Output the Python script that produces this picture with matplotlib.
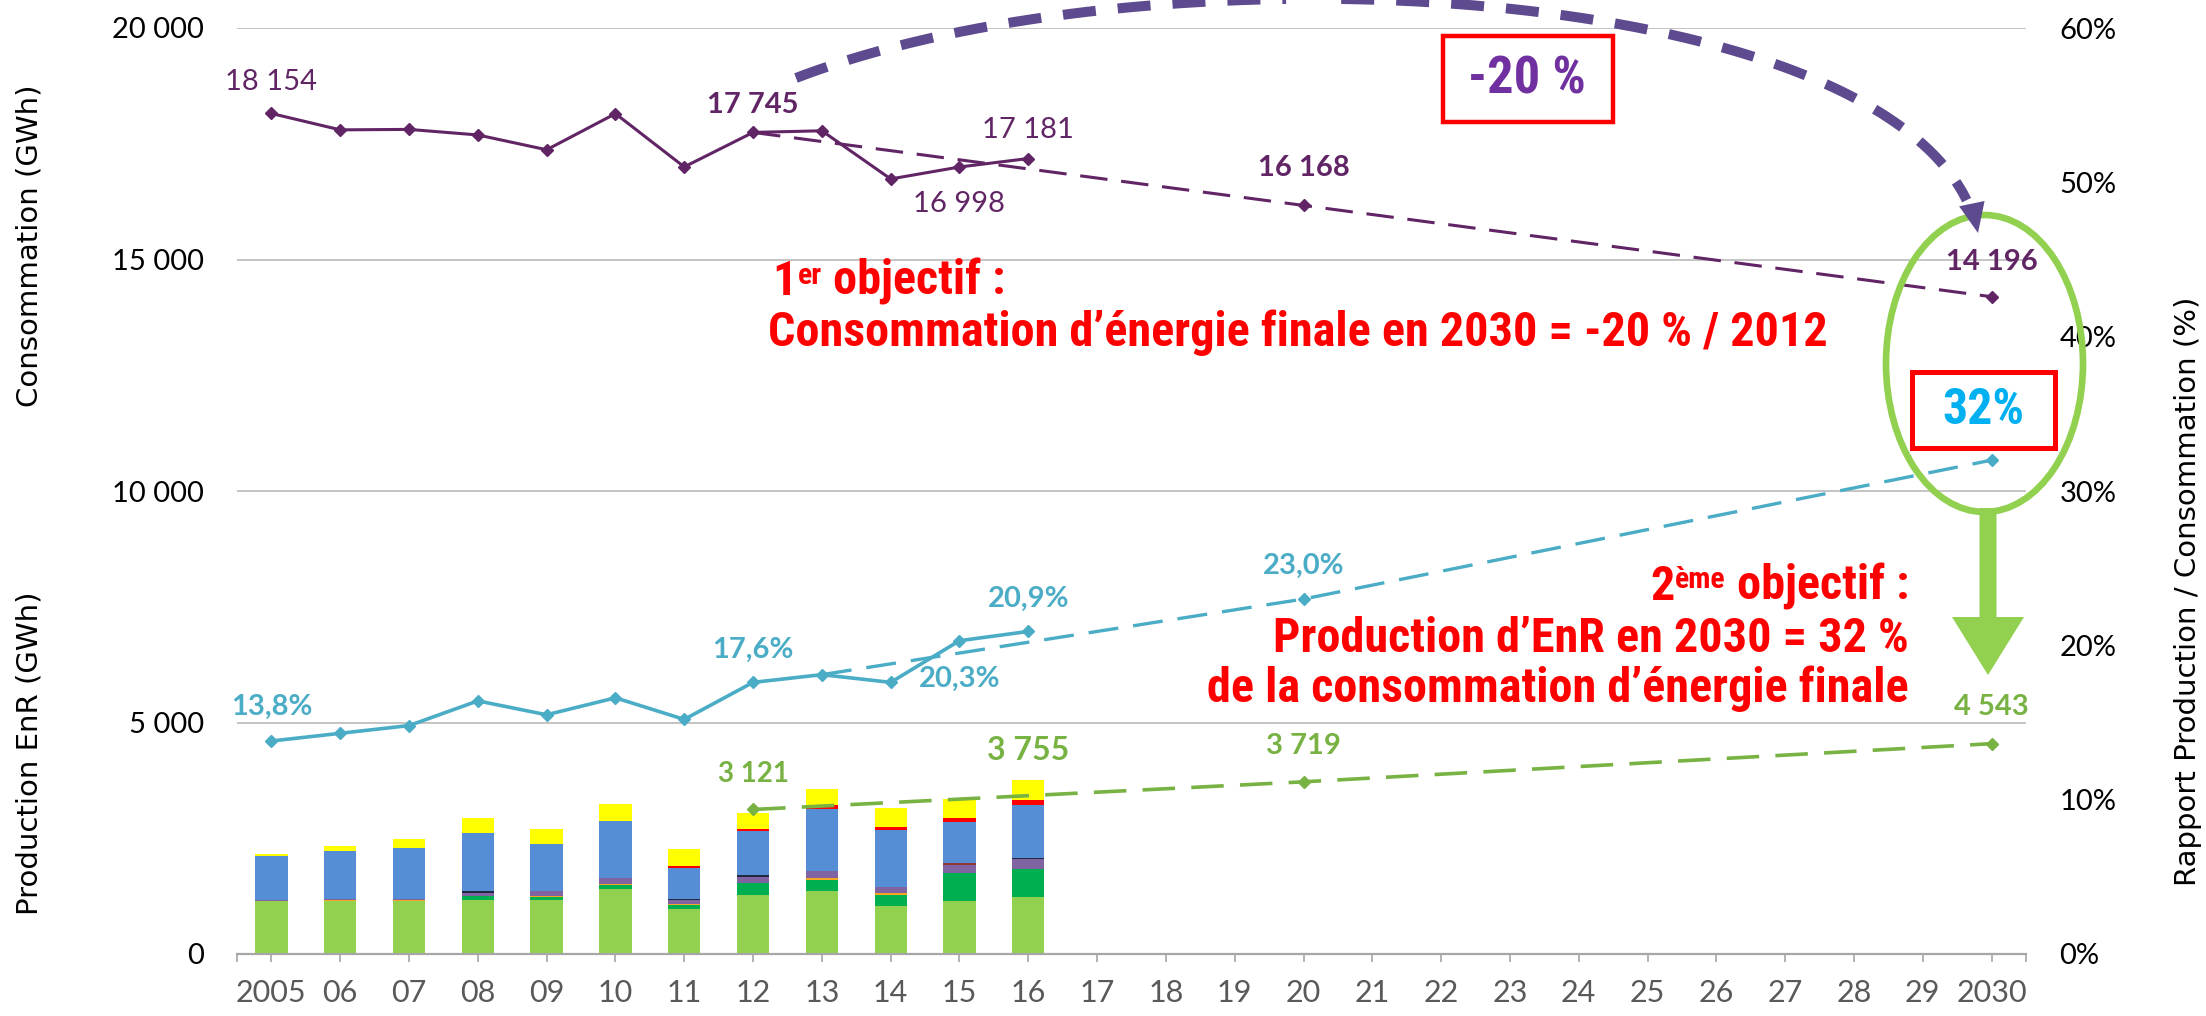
import numpy as np
import matplotlib
matplotlib.use("Agg")
import matplotlib.pyplot as plt
from matplotlib import font_manager
from matplotlib.font_manager import FontProperties
from matplotlib.patches import Ellipse, Rectangle, Polygon
from matplotlib.transforms import Affine2D
from matplotlib.ticker import FuncFormatter

# ── Data ──────────────────────────────────────────────────────────────────
years = ["2005", "06", "07", "08", "09", "10", "11", "12", "13", "14", "15", "16",
         "17", "18", "19", "20", "21", "22", "23", "24", "25", "26", "27", "28",
         "29", "2030"]
hist_years = years[:12]

# consommation d'énergie finale (GWh)
conso = [18154, 17800, 17810, 17690, 17370, 18150, 17000, 17745, 17780, 16740, 16998, 17181]
conso_proj_years = ["12", "20", "2030"]
conso_proj = [17745, 16168, 14196]

# rapport production EnR / consommation (%)
ratio = [13.8, 14.3, 14.8, 16.4, 15.5, 16.6, 15.2, 17.6, 18.1, 17.6, 20.3, 20.9]
ratio_proj_years = ["13", "20", "2030"]
ratio_proj = [18.1, 23.0, 32.0]

# production EnR projetée (GWh)
enr_proj_years = ["12", "20", "2030"]
enr_proj = [3121, 3719, 4543]

# production EnR par filière (GWh), empilée
seg_light_green = [1151, 1151, 1138, 1166, 1166, 1397, 979, 1281, 1353, 1029, 1145, 1238]
seg_dark_green = [0, 0, 0, 94, 72, 94, 72, 252, 252, 252, 605, 605]
seg_orange = [0, 25, 30, 0, 22, 29, 29, 0, 36, 36, 0, 0]
seg_purple = [15, 15, 25, 58, 94, 115, 86, 130, 151, 130, 173, 202]
seg_dark = [0, 0, 0, 43, 0, 0, 29, 43, 0, 0, 0, 29]
seg_brown = [0, 0, 0, 0, 0, 0, 0, 0, 0, 0, 36, 0]
seg_blue = [951, 1041, 1103, 1259, 1015, 1238, 669, 944, 1347, 1224, 892, 1144]
seg_red = [0, 0, 0, 0, 0, 0, 29, 50, 72, 65, 79, 108]
seg_yellow = [43, 101, 188, 310, 331, 360, 368, 345, 360, 424, 411, 429]

segments = [
    (seg_light_green, "#92D050"),
    (seg_dark_green, "#00B050"),
    (seg_orange, "#F5A623"),
    (seg_purple, "#8064A2"),
    (seg_dark, "#1F2A44"),
    (seg_brown, "#943634"),
    (seg_blue, "#558ED5"),
    (seg_red, "#FF0000"),
    (seg_yellow, "#FFFF00"),
]

# labelled points: (year, offset px)
conso_labels = [("2005", 31, "normal"), ("12", 27, "bold"), ("15", -37, "normal"), ("16", 29, "normal")]
conso_proj_labels = [("20", 37, "bold"), ("2030", 35, "bold")]
ratio_labels = [("2005", 34), ("12", 33), ("15", -38), ("16", 33)]
ratio_proj_labels = [("20", 33)]
enr_labels = [("12", 35, 20), ("20", 36, 21), ("2030", 37, 21)]

# ── Style ─────────────────────────────────────────────────────────────────
W, H = 2206, 1016
PX = Affine2D().scale(1, -1).translate(0, H)   # image pixels, origin top-left

C_CONSO = "#612565"
C_RATIO = "#4BACC6"
C_ENR = "#77B243"
C_RED = "#FF0000"
C_ARC = "#5E4A8E"


def _wt(f):
    w = f.weight
    if isinstance(w, str):
        w = font_manager.weight_dict.get(w, 400)
    return w


def narrow_bold_file():
    fl = font_manager.fontManager.ttflist
    for name in ["Liberation Sans Narrow", "Roboto Condensed", "Open Sans Condensed",
                 "Noto Sans Condensed", "DejaVu Sans Condensed"]:
        for f in fl:
            if f.name == name and _wt(f) >= 700 and f.style == "normal":
                return f.fname
    for stretch in ("condensed", "semi-condensed", "extra-condensed"):
        for f in fl:
            if _wt(f) >= 700 and f.stretch == stretch and f.style == "normal":
                return f.fname
    return None


NARROW_FILE = narrow_bold_file()


def red_font(size):
    if NARROW_FILE:
        return FontProperties(fname=NARROW_FILE, size=size)
    return FontProperties(family="Lato", weight="bold", size=size)


plt.rcParams["font.family"] = "Lato"

fig = plt.figure(figsize=(W / 100, H / 100), dpi=100)
ax = fig.add_axes([237 / W, 1 - 954 / H, 1789 / W, (954 - 28) / H])
ax2 = ax.twinx()

x_all = np.arange(len(years))
xi = {y: i for i, y in enumerate(years)}
x_hist = np.array([xi[y] for y in hist_years])

# ── Bars ──────────────────────────────────────────────────────────────────
bottom = np.zeros(len(hist_years))
for vals, col in segments:
    ax.bar(x_hist, vals, width=0.47, bottom=bottom, color=col, edgecolor="none", zorder=2)
    bottom += np.array(vals)

# ── Lines ─────────────────────────────────────────────────────────────────
ax.plot(x_hist, conso, color=C_CONSO, lw=2.2, marker="D", ms=6, zorder=4)
ax.plot([xi[y] for y in conso_proj_years], conso_proj, color=C_CONSO, lw=2.2,
        dashes=(9, 4.5), marker="D", ms=6, markevery=[1, 2], zorder=4)

ax.plot([xi[y] for y in enr_proj_years], enr_proj, color=C_ENR, lw=2.6,
        dashes=(9, 4.5), marker="D", ms=6, zorder=4)

ax2.plot(x_hist, ratio, color=C_RATIO, lw=2.6, marker="D", ms=6, zorder=4)
ax2.plot([xi[y] for y in ratio_proj_years], ratio_proj, color=C_RATIO, lw=2.4,
         dashes=(9, 4.5), marker="D", ms=6, markevery=[1, 2], zorder=4)

# ── Axes ──────────────────────────────────────────────────────────────────
ax.set_xlim(-0.5, len(years) - 0.5)
ax.set_ylim(0, 20000)
ax2.set_ylim(0, 60)

ax.set_yticks(range(0, 20001, 5000))
ax.yaxis.set_major_formatter(FuncFormatter(lambda v, p: f"{int(v):,}".replace(",", " ")))
ax2.set_yticks(range(0, 61, 10))
ax2.yaxis.set_major_formatter(FuncFormatter(lambda v, p: f"{int(v)}%"))

ax.set_xticks(x_all)
ax.set_xticklabels(years)
ax.set_xticks([-0.5, len(years) - 0.5], minor=True)

ax.yaxis.grid(True, color="#BFBFBF", lw=1.3)
ax.set_axisbelow(True)

for a in (ax, ax2):
    for s in ("top", "left", "right", "bottom"):
        a.spines[s].set_visible(False)
ax.spines["bottom"].set_visible(True)
ax.spines["bottom"].set_color("#A6A6A6")
ax.spines["bottom"].set_linewidth(1.6)

ax.tick_params(axis="x", which="both", length=6, width=1.2, color="#A6A6A6",
               labelcolor="#595959", labelsize=22, pad=12)
ax.tick_params(axis="y", length=0, labelsize=21, pad=24, labelcolor="#000000")
ax2.tick_params(axis="y", length=0, labelsize=21, pad=24, labelcolor="#000000")

fig.text(30, 246, "Consommation (GWh)", transform=PX, rotation=90, ha="center",
         va="center", fontsize=21, family="DejaVu Sans")
fig.text(30, 753, "Production EnR (GWh)", transform=PX, rotation=90, ha="center",
         va="center", fontsize=21, family="DejaVu Sans")
fig.text(2188, 591, "Rapport Production / Consommation (%)", transform=PX, rotation=90,
         ha="center", va="center", fontsize=21, family="DejaVu Sans")

# ── Data labels ───────────────────────────────────────────────────────────
def gwh(v):
    return f"{int(round(v)):,}".replace(",", " ")


def pct(v):
    return f"{v:.1f}%".replace(".", ",")


for y, dy, wt in conso_labels:
    v = conso[hist_years.index(y)]
    ax.annotate(gwh(v), (xi[y], v), xytext=(0, dy), textcoords="offset pixels",
                ha="center", va="center", fontsize=21, color=C_CONSO, weight=wt)
for y, dy, wt in conso_proj_labels:
    v = conso_proj[conso_proj_years.index(y)]
    ax.annotate(gwh(v), (xi[y], v), xytext=(0, dy), textcoords="offset pixels",
                ha="center", va="center", fontsize=21, color=C_CONSO, weight=wt)

for y, dy in ratio_labels:
    v = ratio[hist_years.index(y)]
    ax2.annotate(pct(v), (xi[y], v), xytext=(0, dy), textcoords="offset pixels",
                 ha="center", va="center", fontsize=21, color=C_RATIO, weight="bold")
for y, dy in ratio_proj_labels:
    v = ratio_proj[ratio_proj_years.index(y)]
    ax2.annotate(pct(v), (xi[y], v), xytext=(0, dy), textcoords="offset pixels",
                 ha="center", va="center", fontsize=21, color=C_RATIO, weight="bold")

for y, dy, fs in enr_labels:
    v = enr_proj[enr_proj_years.index(y)]
    ax.annotate(gwh(v), (xi[y], v), xytext=(0, dy), textcoords="offset pixels",
                ha="center", va="center", fontsize=fs, color=C_ENR, weight="bold")
# total 2016 bar
ax.annotate(gwh(bottom[-1]), (x_hist[-1], bottom[-1]), xytext=(0, 30),
            textcoords="offset pixels", ha="center", va="center", fontsize=23,
            color=C_ENR, weight="bold")

# ── Objectifs (texte rouge) ───────────────────────────────────────────────
FS = 32
red_texts = []


def red_text(*args, sup=False, **kw):
    kw.setdefault("color", C_RED)
    kw["fontproperties"] = red_font(FS * (0.62 if sup else 1.0))
    if "xycoords" in kw:
        t = ax2.annotate(*args, annotation_clip=False, **kw)
    else:
        t = fig.text(*args, transform=PX, **kw)
    red_texts.append(t)
    return t


t1 = red_text(772, 295, "1", ha="left", va="baseline")
t2 = red_text("er", xy=(1, 1), xycoords=t1, xytext=(1, -2), textcoords="offset points",
              ha="left", va="top", sup=True)
red_text(" objectif :", xy=(1, 0), xycoords=(t2, t1), ha="left", va="bottom")
long_line = red_text(768, 346, "Consommation d\u2019énergie finale en 2030 = -20 % / 2012",
                     ha="left", va="baseline")

s3 = red_text(1909, 600, " objectif :", ha="right", va="baseline")
s2 = red_text("ème", xy=(0, 1), xycoords=s3, xytext=(0, -2), textcoords="offset points",
              ha="right", va="top", sup=True)
red_text("2", xy=(0, 0), xycoords=(s2, s3), ha="right", va="bottom")
red_text(1909, 652, "Production d\u2019EnR en 2030 = 32 %", ha="right", va="baseline")
red_text(1909, 702, "de la consommation d\u2019énergie finale", ha="right", va="baseline")

# ── Boxes, ellipse and arrows ─────────────────────────────────────────────
fig.add_artist(Rectangle((1443, 36), 170, 86, transform=PX, fill=False,
                         edgecolor=C_RED, lw=3.2))
box20 = fig.text(1527, 80, "-20 %", transform=PX, ha="center", va="center",
                 color="#7030A0", fontproperties=red_font(36))

fig.add_artist(Rectangle((1912, 372), 143, 76, transform=PX, fill=False,
                         edgecolor=C_RED, lw=3.6))
box32 = fig.text(1983, 411, "32%", transform=PX, ha="center", va="center",
                 color="#00B0F0", fontproperties=red_font(32))

# match the width of the reference lettering with whatever face was found
renderer = fig.canvas.get_renderer()


def fit(texts, ref, target, lo=0.7, hi=1.15):
    k = target / ref.get_window_extent(renderer).width
    k = max(lo, min(hi, k))
    for t in texts:
        t.set_fontsize(t.get_fontsize() * k)


fit(red_texts, long_line, 1062)
fit([box20], box20, 118)
fit([box32], box32, 82)

fig.add_artist(Ellipse((1984.5, 363.5), 197, 297, transform=PX, fill=False,
                       edgecolor="#92D050", lw=4.8))
fig.add_artist(Polygon([(1979.5, 508), (1996.5, 508), (1996.5, 617), (2024, 617),
                        (1988, 675), (1952, 617), (1979.5, 617)],
                       closed=True, transform=PX, facecolor="#92D050", edgecolor="none"))

# big dashed arc from 2012 to 2030
p0, p1, p2, p3 = map(np.array, [(796, 78), (1160, -62), (1925, -20), (1978, 233)])
t = np.linspace(0, 0.955, 300)[:, None]
curve = (1 - t) ** 3 * p0 + 3 * (1 - t) ** 2 * t * p1 + 3 * (1 - t) * t ** 2 * p2 + t ** 3 * p3
fig.add_artist(plt.Line2D(curve[:, 0], curve[:, 1], transform=PX, color=C_ARC, lw=7.2,
                          dashes=(3.3, 2.2), solid_capstyle="butt"))
d = (p3 - p2) / np.linalg.norm(p3 - p2)
n = np.array([d[1], -d[0]])
base = p3 - 30 * d
fig.add_artist(Polygon([p3, base + 13 * n, base - 13 * n], closed=True, transform=PX,
                       facecolor=C_ARC, edgecolor="none"))

fig.savefig("out.png", dpi=100)
